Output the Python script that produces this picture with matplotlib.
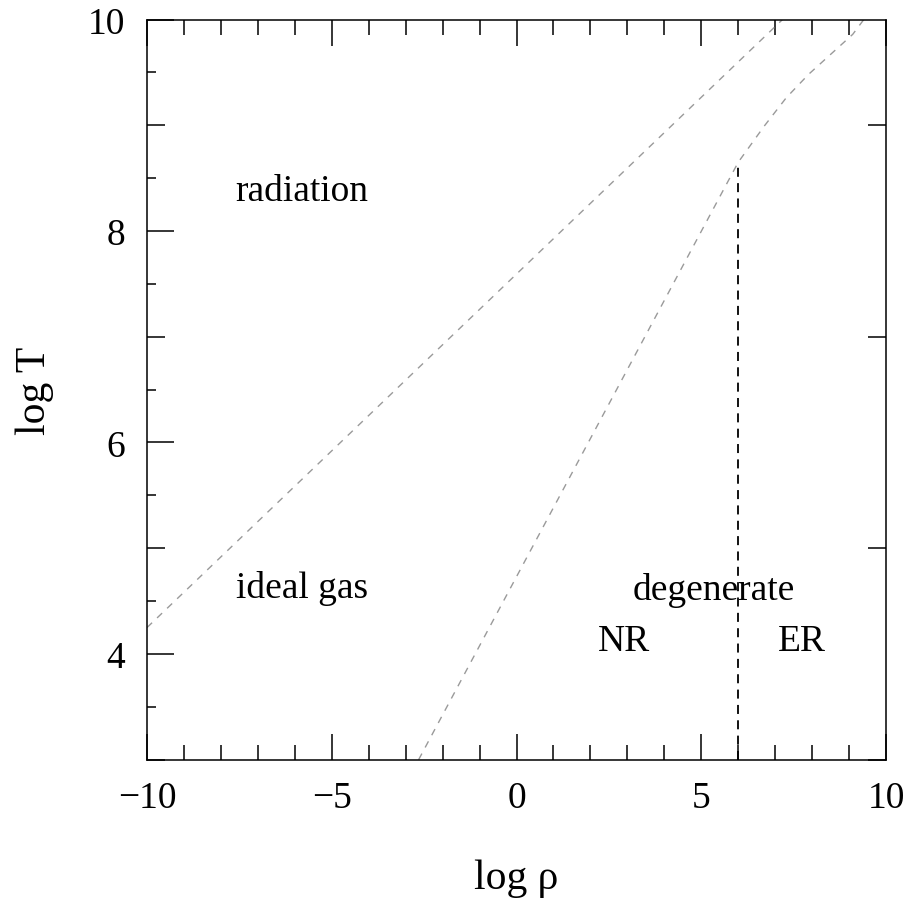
import matplotlib
matplotlib.use("Agg")
import matplotlib.pyplot as plt
from matplotlib.ticker import MultipleLocator, FixedLocator, NullFormatter

plt.rcParams['font.family'] = ['Liberation Serif', 'DejaVu Serif']
plt.rcParams['axes.unicode_minus'] = True

# Boundary between radiation and ideal gas
rad_x = [-10.0, 7.2]
rad_y = [4.25, 10.0]

# Boundary between ideal gas and degenerate gas
deg_x = [-2.65, 6.0, 6.7, 7.3, 7.9, 8.5, 9.1, 9.4]
deg_y = [3.0, 8.65, 8.99, 9.26, 9.48, 9.67, 9.86, 10.0]

# NR / ER division
er_x = [6.0, 6.0]
er_y = [3.0, 8.65]

# Region labels
labels = ["radiation", "ideal gas", "degenerate", "NR", "ER"]
label_x = [-5.8, -5.8, 5.35, 2.9, 7.73]
label_y = [8.29, 4.54, 4.52, 4.04, 4.04]

xticks = [-10, -5, 0, 5, 10]
yticks = [4, 6, 8, 10]
yticks_mid = [3, 5, 7, 9]

fig = plt.figure(figsize=(9.15, 9.04), dpi=100)
ax = fig.add_axes([0.1607, 0.1585, 0.8076, 0.8188])

ax.plot(rad_x, rad_y, color='#9a9a9a', lw=1.0, dashes=(5, 5))
ax.plot(deg_x, deg_y, color='#9a9a9a', lw=1.0, dashes=(5, 5))
ax.plot(er_x, er_y, color='black', lw=1.3, dashes=(5, 3.5))

for t, x, y in zip(labels, label_x, label_y):
    ax.text(x, y, t, ha='center', va='baseline', fontsize=27)

ax.set_xlim(-10, 10)
ax.set_ylim(3, 10)
ax.set_xticks(xticks)
ax.set_yticks(yticks)
ax.xaxis.set_minor_locator(MultipleLocator(1))
ax.yaxis.set_minor_locator(FixedLocator([3.5, 4.5, 5.5, 6.5, 7.5, 8.5, 9.5]))

ax.tick_params(which='both', direction='in', top=True, right=True, width=1.1, labelsize=27)
ax.tick_params(axis='x', which='major', length=18.5, pad=15)
ax.tick_params(axis='x', which='minor', length=11)
ax.tick_params(axis='y', which='major', length=19.4, pad=16)
ax.tick_params(axis='y', which='minor', length=6.5)

for s in ax.spines.values():
    s.set_linewidth(1.1)

# intermediate y ticks at odd integers
ax2 = ax.twinx()
ax2.set_ylim(3, 10)
ax2.set_yticks(yticks_mid)
ax2.yaxis.set_major_formatter(NullFormatter())
ax2.tick_params(axis='y', which='both', direction='in', left=True, right=True,
                labelleft=False, labelright=False, length=13, width=1.1)
ax2.yaxis.set_minor_locator(FixedLocator([]))
for s in ax2.spines.values():
    s.set_visible(False)

ax.set_xlabel('log ρ', fontsize=30, labelpad=31)
ax.set_ylabel('log T', fontsize=30, labelpad=24)

fig.savefig('out.png', dpi=100)
